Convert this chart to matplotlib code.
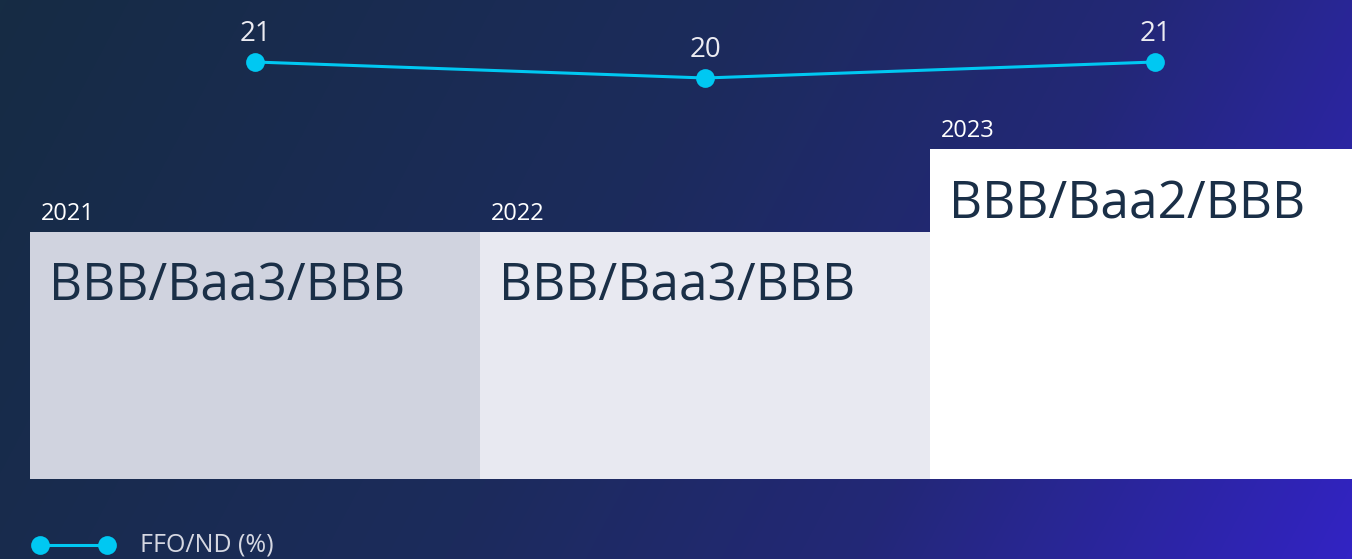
import numpy as np
import matplotlib.pyplot as plt
from matplotlib.colors import LinearSegmentedColormap

plt.rcParams['font.family'] = ['Open Sans', 'DejaVu Sans']

# data
years = ["2021", "2022", "2023"]
ratings = ["BBB/Baa3/BBB", "BBB/Baa3/BBB", "BBB/Baa2/BBB"]
rating_level = [3, 3, 4]  # notch height of the step bars
ffo_nd = [21, 20, 21]
legend_label = "FFO/ND (%)"

bar_colors = ["#d0d3df", "#e8e9f1", "#ffffff"]
line_color = "#00c8f2"
text_dark = "#1a2f47"
text_light = "#ececf2"

W, H = 1352, 559
fig = plt.figure(figsize=(W / 100, H / 100), dpi=100)

# background gradient
bg = fig.add_axes([0, 0, 1, 1])
yy, xx = np.mgrid[0:H, 0:W]
t = (0.82 * xx / W + 0.18 * yy / H)
t = np.clip(t, 0, 1)
cmap = LinearSegmentedColormap.from_list(
    "bg", [(0, "#162c44"), (0.45, "#1c2b5c"), (0.7, "#232877"), (1, "#3223c4")])
bg.imshow(t, cmap=cmap, aspect='auto', extent=[0, 1, 0, 1], origin='upper')
bg.axis('off')

# x scale shared: one category = 450 px, first bar starts at px 30
px_per = 450
x0 = -0.5 - 30 / px_per
x1 = x0 + W / px_per
xs = np.arange(len(years))

# bars axes: from px 479 (bottom) to 149 (top of highest)
bar_ax = fig.add_axes([0, (H - 479) / H, 1, 330 / H])
bar_ax.set_xlim(x0, x1)
bar_ax.set_ylim(0, max(rating_level))
bar_ax.bar(xs, rating_level, width=1.0, color=bar_colors, linewidth=0)
for x, lvl, yr, rt in zip(xs, rating_level, years, ratings):
    bar_ax.annotate(yr, (x - 0.5, lvl), xytext=(11, 6), textcoords='offset pixels',
                    color='white', fontsize=17, ha='left', va='bottom')
    bar_ax.annotate(rt, (x - 0.5, lvl), xytext=(19, -30), textcoords='offset pixels',
                    color=text_dark, fontsize=37, ha='left', va='top')
bar_ax.axis('off')

# line axes at top
line_ax = fig.add_axes([0, (H - 140) / H, 1, 140 / H])
line_ax.set_xlim(x0, x1)
line_ax.set_ylim(21 - 78 / 16, 21 + 62 / 16)
line_ax.plot(xs, ffo_nd, color=line_color, lw=2.2, marker='o', ms=13.5,
             markeredgewidth=0)
for x, v in zip(xs, ffo_nd):
    line_ax.annotate(str(v), (x, v), xytext=(0, 14), textcoords='offset pixels',
                     color=text_light, fontsize=20, ha='center', va='bottom')
line_ax.axis('off')

# legend
lg = fig.add_axes([0, 0, 1, 1])
lg.set_xlim(0, W)
lg.set_ylim(H, 0)
lg.plot([40, 107], [545, 545], color=line_color, lw=2.2, marker='o', ms=13.5,
        markeredgewidth=0)
lg.text(140, 545, legend_label, color="#d6d8e2", fontsize=18,
        ha='left', va='center')
lg.axis('off')

fig.savefig("out.png", dpi=100)
